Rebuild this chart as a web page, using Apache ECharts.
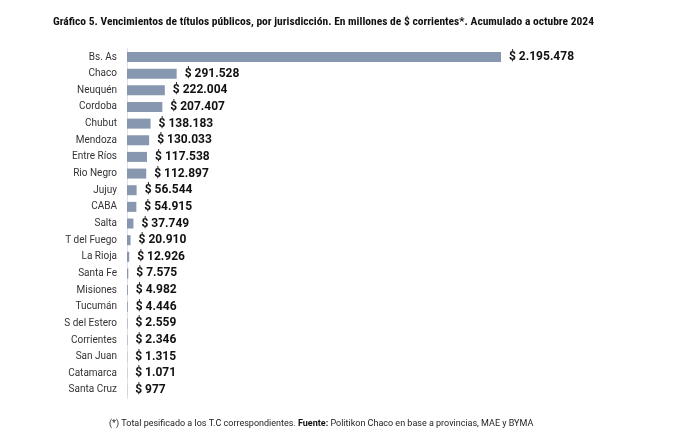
<!DOCTYPE html>
<html><head><meta charset="utf-8">
<script src="https://cdn.jsdelivr.net/npm/echarts@6/dist/echarts.min.js"></script>
<style>html,body{margin:0;padding:0;background:#fff;}#c{width:681px;height:442px;}</style>
</head><body><div id="c"></div>
<script>
const categories = ["Bs. As","Chaco","Neuquén","Cordoba","Chubut","Mendoza","Entre Ríos","Rio Negro","Jujuy","CABA","Salta","T del Fuego","La Rioja","Santa Fe","Misiones","Tucumán","S del Estero","Corrientes","San Juan","Catamarca","Santa Cruz"];
const values = [2195478,291528,222004,207407,138183,130033,117538,112897,56544,54915,37749,20910,12926,7575,4982,4446,2559,2346,1315,1071,977];
const titleText = "Gráfico 5. Vencimientos de títulos públicos, por jurisdicción. En millones de $ corrientes*. Acumulado a octubre 2024";

function fmt(v){ return "$ " + v.toString().replace(/\B(?=(\d{3})+(?!\d))/g, "."); }

const chart = echarts.init(document.getElementById('c'));
chart.setOption({
  animation:false,
  title:{ text:titleText, left:48, top:11,
    textStyle:{ fontFamily:"Liberation Sans Narrow, Roboto Condensed, Arial Narrow, sans-serif", fontSize:11.5, fontWeight:'bold', color:'#111' } },
  graphic:[{ type:'text', left:109, top:419,
    style:{ rich:{ n:{fontFamily:'Roboto, sans-serif', fontSize:9, fill:'#222'}, b:{fontFamily:'Roboto, sans-serif', fontSize:9, fontWeight:'bold', fill:'#111'} },
      text:'{n|(*) Total pesificado a los T.C correspondientes. }{b|Fuente:}{n| Politikon Chaco en base a provincias, MAE y BYMA}' } }],
  grid:{ left:127, width:374, top:48.7, height:349.6 },
  xAxis:{ type:'value', min:0, max:2195478, show:false },
  yAxis:{ type:'category', data:categories, inverse:true,
    axisLine:{ show:true, lineStyle:{ color:'#dde0e6', width:1 } },
    axisTick:{ show:false },
    axisLabel:{ fontFamily:'Roboto, sans-serif', fontSize:10, color:'#333', margin:10 } },
  series:[{ type:'bar', data:values, barWidth:10,
    itemStyle:{ color:'#8797b0' },
    label:{ show:true, position:'right', distance:8, formatter:p=>fmt(p.value),
      fontFamily:'Roboto, sans-serif', fontSize:12, fontWeight:'bold', color:'#111' } }]
});
</script></body></html>
